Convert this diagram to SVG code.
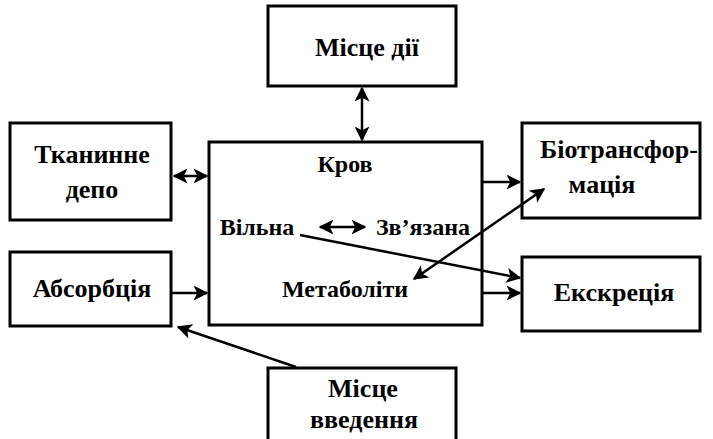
<svg xmlns="http://www.w3.org/2000/svg" width="713" height="439" viewBox="0 0 713 439">
<style>
.box{fill:#fff;stroke:#000;stroke-width:3}
.t{font-family:'Liberation Serif','DejaVu Serif',serif;font-weight:bold;font-size:26px;fill:#000;text-anchor:middle}
.s{font-size:24px}
.c{stroke:#000;stroke-width:2.5;fill:none}
</style>
<defs>
<marker id="ah" viewBox="0 0 10 10" refX="9" refY="5" markerWidth="6" markerHeight="6" orient="auto-start-reverse" markerUnits="strokeWidth">
<path d="M0,0 L10,5 L0,10 L2.5,5 z" fill="#000"/>
</marker>
</defs>
<rect width="713" height="439" fill="#fff"/>
<g id="misce-dii"><rect class="box" x="268" y="6" width="188" height="80"/><text class="t" x="367" y="56">Місце дії</text></g>
<g id="krov"><rect class="box" x="209" y="142" width="273" height="183"/>
<text class="t s" x="345" y="172">Кров</text>
<text class="t s" x="257" y="235">Вільна</text>
<text class="t s" x="423" y="235">Зв’язана</text>
<text class="t s" x="345" y="297">Метаболіти</text></g>
<g id="tkanynne"><rect class="box" x="10" y="123" width="161" height="97"/><text class="t" x="92" y="163">Тканинне</text><text class="t" x="92" y="198">депо</text></g>
<g id="absorb"><rect class="box" x="10" y="252" width="161" height="74"/><text class="t" x="92" y="297">Абсорбція</text></g>
<g id="biotrans"><rect class="box" x="522" y="123" width="178" height="95"/><text class="t" x="619" y="158">Біотрансфор-</text><text class="t" x="602" y="193">мація</text></g>
<g id="ekskr"><rect class="box" x="522" y="257" width="178" height="74"/><text class="t" x="614" y="301">Екскреція</text></g>
<g id="vvedennya"><rect class="box" x="268" y="368" width="188" height="80"/><text class="t" x="363" y="397">Місце</text><text class="t" x="364" y="428">введення</text></g>
<g id="connectors">
<line class="c" x1="174" y1="176" x2="207" y2="176" marker-start="url(#ah)" marker-end="url(#ah)"/>
<line class="c" x1="362" y1="88" x2="362" y2="140" marker-start="url(#ah)" marker-end="url(#ah)"/>
<line class="c" x1="482" y1="182" x2="520" y2="182" marker-end="url(#ah)"/>
<line class="c" x1="482" y1="293" x2="520" y2="293" marker-end="url(#ah)"/>
<line class="c" x1="171" y1="293" x2="207" y2="293" marker-end="url(#ah)"/>
<line class="c" x1="320" y1="227" x2="365" y2="227" marker-start="url(#ah)" marker-end="url(#ah)"/>
<line class="c" x1="300" y1="235" x2="520" y2="278" marker-end="url(#ah)"/>
<line class="c" x1="414" y1="279" x2="544" y2="189" marker-start="url(#ah)" marker-end="url(#ah)"/>
<line class="c" x1="296" y1="367" x2="178" y2="327" marker-end="url(#ah)"/>
</g>
</svg>
